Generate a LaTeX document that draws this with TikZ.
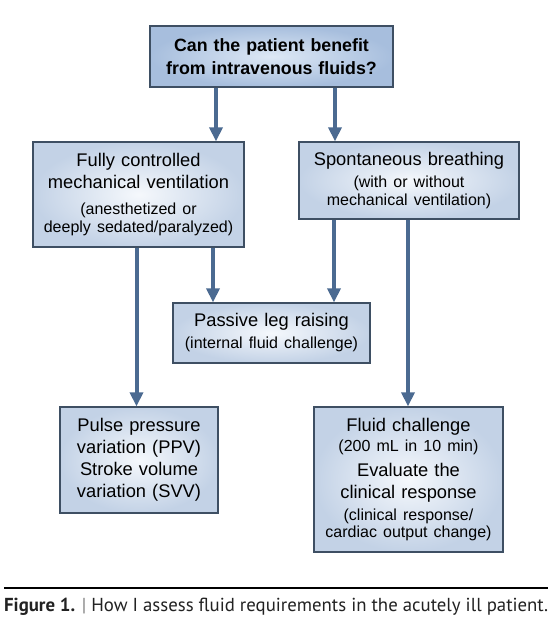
\documentclass[tikz,border=0pt]{standalone}
\usepackage{fontspec}
\setmainfont{Liberation Sans}
\newfontfamily\capfont{PT Sans}
\usetikzlibrary{arrows.meta}
\definecolor{boxedge}{HTML}{3E4F63}
\definecolor{boxin}{HTML}{F5F8FC}
\definecolor{boxout}{HTML}{C3D2E6}
\definecolor{titin}{HTML}{DDE8F5}
\definecolor{titout}{HTML}{A7BEDD}
\definecolor{arrcol}{HTML}{4B6A91}
\definecolor{captxt}{HTML}{222222}
\newcommand{\mainf}{\fontsize{18.3}{22}\selectfont}
\newcommand{\subf}{\fontsize{16}{17.5}\selectfont}
\tikzset{
  box/.style={draw=boxedge, line width=1.3pt, inner color=boxin, outer color=boxout,
    align=center, inner sep=0pt, text=black, font=\mainf},
  titlebox/.style={box, inner color=titin, outer color=titout, font=\fontsize{17.8}{23}\selectfont\bfseries},
  arr/.style={draw=arrcol, line width=4pt, -{Triangle[width=13pt,length=14pt]}},
}
\begin{document}
\begin{tikzpicture}[x=1pt,y=-1pt]
\useasboundingbox[fill=white] (0,0) rectangle (559,625);

\node[titlebox, minimum width=243pt, minimum height=61pt, text width=237pt] (title) at (271.5,56.5)
  {Can the patient benefit\\ from intravenous fluids?\par};

\node[box, minimum width=211pt, minimum height=105pt, text width=205pt] (fc) at (138.5,194.5)
  {Fully controlled\\ mechanical ventilation\par\vspace{8.5pt}\subf (anesthetized or\\ deeply sedated/paralyzed)\par};

\node[box, minimum width=220pt, minimum height=77pt, text width=214pt] (sb) at (409,180.5)
  {Spontaneous breathing\par\vspace{4.5pt}\subf (with or without\\ mechanical ventilation)\par};

\node[box, minimum width=197pt, minimum height=60pt, text width=191pt] (plr) at (271.5,333)
  {Passive leg raising\par\vspace{4.5pt}\subf (internal fluid challenge)\par};

\node[box, minimum width=158pt, minimum height=106pt, text width=152pt] (ppv) at (139,460)
  {Pulse pressure\\ variation (PPV)\\ Stroke volume\\ variation (SVV)\par};

\node[box, minimum width=189pt, minimum height=145pt, text width=183pt] (fl) at (408.5,479.5)
  {Fluid challenge\par\vspace{2.5pt}{\subf (200 mL in 10 min)\par}\vspace{3pt}Evaluate the\\ clinical response\par\vspace{4.5pt}\subf (clinical response/\\ cardiac output change)\par};

\draw[arr] ([xshift=-55.5pt]title.south) -- ([xshift=-55.5pt]title.south |- fc.north);
\draw[arr] ([xshift=63.5pt]title.south) -- ([xshift=63.5pt]title.south |- sb.north);
\draw[arr] ([xshift=74.5pt]fc.south) -- ([xshift=74.5pt]fc.south |- plr.north);
\draw[arr] ([xshift=-75pt]sb.south) -- ([xshift=-75pt]sb.south |- plr.north);
\draw[arr] ([xshift=-2pt]fc.south) -- ([xshift=-2pt]fc.south |- ppv.north);
\draw[arr] ([xshift=-1pt]sb.south) -- ([xshift=-1pt]sb.south |- fl.north);

\coordinate (rl) at (4,588);
\coordinate (rr) at (548,588);
\draw[line width=2.5pt, black] (rl) -- (rr);
\node[anchor=west, inner sep=0pt, text=captxt] (cap) at (4,607)
  {\resizebox{544pt}{!}{\capfont\fontsize{20}{24}\selectfont\textbf{Figure 1.} \textcolor{gray}{|} How I assess fluid requirements in the acutely ill patient.}};
\end{tikzpicture}
\end{document}
